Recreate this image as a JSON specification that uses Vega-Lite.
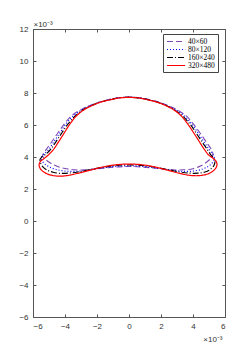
{
  "$schema": "https://vega.github.io/schema/vega-lite/v6.json",
  "autosize": {"type": "none"},
  "padding": {"left": 33, "top": 29, "right": 24, "bottom": 41},
  "width": 192,
  "height": 288,
  "background": "white",
  "config": {
    "view": {"stroke": null},
    "axis": {"grid": false, "domainColor": "#555", "domainWidth": 1, "tickColor": "#555", "tickWidth": 1, "labelFont": "Liberation Sans", "labelFontSize": 8, "labelColor": "#333", "titleFont": "Liberation Sans", "titleFontWeight": "normal", "titleFontSize": 8, "titleColor": "#333"}
  },
  "datasets": {
    "curves": [
      {"s": "40×60", "i": 0, "x": 0, "y": 7.75}, {"s": "40×60", "i": 1, "x": -0.6, "y": 7.71}, {"s": "40×60", "i": 2, "x": -1.2, "y": 7.6}, {"s": "40×60", "i": 3, "x": -1.9, "y": 7.42}, {"s": "40×60", "i": 4, "x": -2.45, "y": 7.22}, {"s": "40×60", "i": 5, "x": -3.0, "y": 6.96}, {"s": "40×60", "i": 6, "x": -3.62, "y": 6.55}, {"s": "40×60", "i": 7, "x": -4.05, "y": 6.05}, {"s": "40×60", "i": 8, "x": -4.45, "y": 5.5}, {"s": "40×60", "i": 9, "x": -4.83, "y": 4.95}, {"s": "40×60", "i": 10, "x": -5.18, "y": 4.46}, {"s": "40×60", "i": 11, "x": -5.36, "y": 4.2}, {"s": "40×60", "i": 12, "x": -5.4, "y": 4.05}, {"s": "40×60", "i": 13, "x": -5.22, "y": 3.85}, {"s": "40×60", "i": 14, "x": -4.92, "y": 3.62}, {"s": "40×60", "i": 15, "x": -4.5, "y": 3.42}, {"s": "40×60", "i": 16, "x": -4.0, "y": 3.28}, {"s": "40×60", "i": 17, "x": -3.4, "y": 3.2}, {"s": "40×60", "i": 18, "x": -2.7, "y": 3.2}, {"s": "40×60", "i": 19, "x": -1.8, "y": 3.28}, {"s": "40×60", "i": 20, "x": -0.9, "y": 3.37}, {"s": "40×60", "i": 21, "x": 0, "y": 3.41}, {"s": "40×60", "i": 22, "x": 0.9, "y": 3.37}, {"s": "40×60", "i": 23, "x": 1.8, "y": 3.28}, {"s": "40×60", "i": 24, "x": 2.7, "y": 3.2}, {"s": "40×60", "i": 25, "x": 3.4, "y": 3.2}, {"s": "40×60", "i": 26, "x": 4.0, "y": 3.27}, {"s": "40×60", "i": 27, "x": 4.5, "y": 3.45}, {"s": "40×60", "i": 28, "x": 4.9, "y": 3.72}, {"s": "40×60", "i": 29, "x": 5.15, "y": 3.95}, {"s": "40×60", "i": 30, "x": 5.25, "y": 4.15}, {"s": "40×60", "i": 31, "x": 5.15, "y": 4.46}, {"s": "40×60", "i": 32, "x": 4.82, "y": 4.95}, {"s": "40×60", "i": 33, "x": 4.44, "y": 5.5}, {"s": "40×60", "i": 34, "x": 4.03, "y": 6.05}, {"s": "40×60", "i": 35, "x": 3.6, "y": 6.55}, {"s": "40×60", "i": 36, "x": 2.98, "y": 6.96}, {"s": "40×60", "i": 37, "x": 2.43, "y": 7.22}, {"s": "40×60", "i": 38, "x": 1.88, "y": 7.42}, {"s": "40×60", "i": 39, "x": 1.2, "y": 7.6}, {"s": "40×60", "i": 40, "x": 0.6, "y": 7.71}, {"s": "40×60", "i": 41, "x": 0, "y": 7.75},

      {"s": "80×120", "i": 0, "x": 0, "y": 7.74}, {"s": "80×120", "i": 1, "x": -0.6, "y": 7.7}, {"s": "80×120", "i": 2, "x": -1.17, "y": 7.59}, {"s": "80×120", "i": 3, "x": -1.85, "y": 7.42}, {"s": "80×120", "i": 4, "x": -2.38, "y": 7.22}, {"s": "80×120", "i": 5, "x": -2.92, "y": 6.96}, {"s": "80×120", "i": 6, "x": -3.5, "y": 6.55}, {"s": "80×120", "i": 7, "x": -3.95, "y": 6.05}, {"s": "80×120", "i": 8, "x": -4.33, "y": 5.5}, {"s": "80×120", "i": 9, "x": -4.7, "y": 4.95}, {"s": "80×120", "i": 10, "x": -5.03, "y": 4.46}, {"s": "80×120", "i": 11, "x": -5.3, "y": 4.2}, {"s": "80×120", "i": 12, "x": -5.46, "y": 4.02}, {"s": "80×120", "i": 13, "x": -5.45, "y": 3.82}, {"s": "80×120", "i": 14, "x": -5.28, "y": 3.58}, {"s": "80×120", "i": 15, "x": -5.02, "y": 3.4}, {"s": "80×120", "i": 16, "x": -4.62, "y": 3.24}, {"s": "80×120", "i": 17, "x": -4.1, "y": 3.13}, {"s": "80×120", "i": 18, "x": -3.5, "y": 3.1}, {"s": "80×120", "i": 19, "x": -2.8, "y": 3.15}, {"s": "80×120", "i": 20, "x": -2.0, "y": 3.27}, {"s": "80×120", "i": 21, "x": -1.0, "y": 3.4}, {"s": "80×120", "i": 22, "x": 0, "y": 3.45}, {"s": "80×120", "i": 23, "x": 1.0, "y": 3.4}, {"s": "80×120", "i": 24, "x": 2.0, "y": 3.27}, {"s": "80×120", "i": 25, "x": 2.8, "y": 3.15}, {"s": "80×120", "i": 26, "x": 3.5, "y": 3.1}, {"s": "80×120", "i": 27, "x": 4.1, "y": 3.13}, {"s": "80×120", "i": 28, "x": 4.6, "y": 3.25}, {"s": "80×120", "i": 29, "x": 4.98, "y": 3.43}, {"s": "80×120", "i": 30, "x": 5.22, "y": 3.65}, {"s": "80×120", "i": 31, "x": 5.33, "y": 3.88}, {"s": "80×120", "i": 32, "x": 5.28, "y": 4.1}, {"s": "80×120", "i": 33, "x": 5.02, "y": 4.46}, {"s": "80×120", "i": 34, "x": 4.68, "y": 4.95}, {"s": "80×120", "i": 35, "x": 4.32, "y": 5.5}, {"s": "80×120", "i": 36, "x": 3.93, "y": 6.05}, {"s": "80×120", "i": 37, "x": 3.48, "y": 6.55}, {"s": "80×120", "i": 38, "x": 2.9, "y": 6.96}, {"s": "80×120", "i": 39, "x": 2.36, "y": 7.22}, {"s": "80×120", "i": 40, "x": 1.83, "y": 7.42}, {"s": "80×120", "i": 41, "x": 1.17, "y": 7.59}, {"s": "80×120", "i": 42, "x": 0.6, "y": 7.7}, {"s": "80×120", "i": 43, "x": 0, "y": 7.74},

      {"s": "160×240", "i": 0, "x": 0, "y": 7.74}, {"s": "160×240", "i": 1, "x": -0.6, "y": 7.7}, {"s": "160×240", "i": 2, "x": -1.16, "y": 7.59}, {"s": "160×240", "i": 3, "x": -1.82, "y": 7.42}, {"s": "160×240", "i": 4, "x": -2.33, "y": 7.22}, {"s": "160×240", "i": 5, "x": -2.85, "y": 6.96}, {"s": "160×240", "i": 6, "x": -3.38, "y": 6.55}, {"s": "160×240", "i": 7, "x": -3.82, "y": 6.05}, {"s": "160×240", "i": 8, "x": -4.2, "y": 5.5}, {"s": "160×240", "i": 9, "x": -4.57, "y": 4.95}, {"s": "160×240", "i": 10, "x": -4.91, "y": 4.46}, {"s": "160×240", "i": 11, "x": -5.22, "y": 4.16}, {"s": "160×240", "i": 12, "x": -5.45, "y": 4.0}, {"s": "160×240", "i": 13, "x": -5.56, "y": 3.85}, {"s": "160×240", "i": 14, "x": -5.52, "y": 3.62}, {"s": "160×240", "i": 15, "x": -5.38, "y": 3.38}, {"s": "160×240", "i": 16, "x": -5.12, "y": 3.18}, {"s": "160×240", "i": 17, "x": -4.75, "y": 3.05}, {"s": "160×240", "i": 18, "x": -4.3, "y": 2.98}, {"s": "160×240", "i": 19, "x": -3.8, "y": 2.99}, {"s": "160×240", "i": 20, "x": -3.2, "y": 3.06}, {"s": "160×240", "i": 21, "x": -2.5, "y": 3.2}, {"s": "160×240", "i": 22, "x": -1.7, "y": 3.35}, {"s": "160×240", "i": 23, "x": -0.85, "y": 3.47}, {"s": "160×240", "i": 24, "x": 0, "y": 3.51}, {"s": "160×240", "i": 25, "x": 0.85, "y": 3.47}, {"s": "160×240", "i": 26, "x": 1.7, "y": 3.35}, {"s": "160×240", "i": 27, "x": 2.5, "y": 3.2}, {"s": "160×240", "i": 28, "x": 3.2, "y": 3.06}, {"s": "160×240", "i": 29, "x": 3.8, "y": 2.99}, {"s": "160×240", "i": 30, "x": 4.3, "y": 2.99}, {"s": "160×240", "i": 31, "x": 4.75, "y": 3.06}, {"s": "160×240", "i": 32, "x": 5.08, "y": 3.22}, {"s": "160×240", "i": 33, "x": 5.3, "y": 3.45}, {"s": "160×240", "i": 34, "x": 5.37, "y": 3.7}, {"s": "160×240", "i": 35, "x": 5.3, "y": 3.92}, {"s": "160×240", "i": 36, "x": 5.12, "y": 4.12}, {"s": "160×240", "i": 37, "x": 4.9, "y": 4.46}, {"s": "160×240", "i": 38, "x": 4.56, "y": 4.95}, {"s": "160×240", "i": 39, "x": 4.2, "y": 5.5}, {"s": "160×240", "i": 40, "x": 3.82, "y": 6.05}, {"s": "160×240", "i": 41, "x": 3.36, "y": 6.55}, {"s": "160×240", "i": 42, "x": 2.83, "y": 6.96}, {"s": "160×240", "i": 43, "x": 2.31, "y": 7.22}, {"s": "160×240", "i": 44, "x": 1.8, "y": 7.42}, {"s": "160×240", "i": 45, "x": 1.16, "y": 7.59}, {"s": "160×240", "i": 46, "x": 0.6, "y": 7.7}, {"s": "160×240", "i": 47, "x": 0, "y": 7.74},

      {"s": "320×480", "i": 0, "x": 0, "y": 7.73}, {"s": "320×480", "i": 1, "x": -0.6, "y": 7.69}, {"s": "320×480", "i": 2, "x": -1.15, "y": 7.58}, {"s": "320×480", "i": 3, "x": -1.8, "y": 7.42}, {"s": "320×480", "i": 4, "x": -2.3, "y": 7.22}, {"s": "320×480", "i": 5, "x": -2.8, "y": 6.96}, {"s": "320×480", "i": 6, "x": -3.3, "y": 6.55}, {"s": "320×480", "i": 7, "x": -3.7, "y": 6.05}, {"s": "320×480", "i": 8, "x": -4.05, "y": 5.5}, {"s": "320×480", "i": 9, "x": -4.4, "y": 4.95}, {"s": "320×480", "i": 10, "x": -4.73, "y": 4.46}, {"s": "320×480", "i": 11, "x": -5.05, "y": 4.12}, {"s": "320×480", "i": 12, "x": -5.35, "y": 3.87}, {"s": "320×480", "i": 13, "x": -5.55, "y": 3.7}, {"s": "320×480", "i": 14, "x": -5.62, "y": 3.52}, {"s": "320×480", "i": 15, "x": -5.56, "y": 3.3}, {"s": "320×480", "i": 16, "x": -5.38, "y": 3.1}, {"s": "320×480", "i": 17, "x": -5.08, "y": 2.93}, {"s": "320×480", "i": 18, "x": -4.7, "y": 2.83}, {"s": "320×480", "i": 19, "x": -4.25, "y": 2.8}, {"s": "320×480", "i": 20, "x": -3.75, "y": 2.86}, {"s": "320×480", "i": 21, "x": -3.2, "y": 2.98}, {"s": "320×480", "i": 22, "x": -2.5, "y": 3.16}, {"s": "320×480", "i": 23, "x": -1.7, "y": 3.36}, {"s": "320×480", "i": 24, "x": -0.85, "y": 3.51}, {"s": "320×480", "i": 25, "x": 0, "y": 3.56}, {"s": "320×480", "i": 26, "x": 0.85, "y": 3.51}, {"s": "320×480", "i": 27, "x": 1.7, "y": 3.36}, {"s": "320×480", "i": 28, "x": 2.5, "y": 3.15}, {"s": "320×480", "i": 29, "x": 3.2, "y": 2.97}, {"s": "320×480", "i": 30, "x": 3.75, "y": 2.86}, {"s": "320×480", "i": 31, "x": 4.25, "y": 2.83}, {"s": "320×480", "i": 32, "x": 4.7, "y": 2.88}, {"s": "320×480", "i": 33, "x": 5.1, "y": 3.02}, {"s": "320×480", "i": 34, "x": 5.38, "y": 3.25}, {"s": "320×480", "i": 35, "x": 5.5, "y": 3.5}, {"s": "320×480", "i": 36, "x": 5.44, "y": 3.74}, {"s": "320×480", "i": 37, "x": 5.25, "y": 3.92}, {"s": "320×480", "i": 38, "x": 4.98, "y": 4.12}, {"s": "320×480", "i": 39, "x": 4.72, "y": 4.46}, {"s": "320×480", "i": 40, "x": 4.4, "y": 4.95}, {"s": "320×480", "i": 41, "x": 4.05, "y": 5.5}, {"s": "320×480", "i": 42, "x": 3.68, "y": 6.05}, {"s": "320×480", "i": 43, "x": 3.28, "y": 6.55}, {"s": "320×480", "i": 44, "x": 2.78, "y": 6.96}, {"s": "320×480", "i": 45, "x": 2.28, "y": 7.22}, {"s": "320×480", "i": 46, "x": 1.78, "y": 7.42}, {"s": "320×480", "i": 47, "x": 1.15, "y": 7.58}, {"s": "320×480", "i": 48, "x": 0.6, "y": 7.69}, {"s": "320×480", "i": 49, "x": 0, "y": 7.73}
    ]
  },
  "data": {"name": "curves"},
  "layer": [
    {
      "mark": {"type": "point", "opacity": 0},
      "encoding": {
        "x": {"field": "x", "type": "quantitative", "scale": {"domain": [-6, 6], "nice": false, "zero": false},
              "axis": {"orient": "top", "values": [-6, -4, -2, 0, 2, 4, 6], "labels": false, "title": null, "tickSize": -3, "domain": true}},
        "y": {"field": "y", "type": "quantitative", "scale": {"domain": [-6, 12], "nice": false, "zero": false},
              "axis": {"orient": "right", "values": [-6, -4, -2, 0, 2, 4, 6, 8, 10, 12], "labels": false, "title": null, "tickSize": -3, "domain": true}}
      }
    },
    {
      "mark": {"type": "line", "interpolate": "catmull-rom"},
      "encoding": {
        "x": {"field": "x", "type": "quantitative",
              "axis": {"orient": "bottom", "values": [-6, -4, -2, 0, 2, 4, 6], "tickSize": -3, "labelPadding": 8, "title": "×10⁻³", "titleAnchor": "end", "titleAlign": "right", "titleX": 189, "titleY": 24, "titleBaseline": "alphabetic"}},
        "y": {"field": "y", "type": "quantitative",
              "axis": {"orient": "left", "values": [-6, -4, -2, 0, 2, 4, 6, 8, 10, 12], "tickSize": -3, "labelPadding": 8, "title": "×10⁻³", "titleAngle": 0, "titleAlign": "left", "titleX": 0, "titleY": -3, "titleBaseline": "alphabetic"}},
        "order": {"field": "i", "type": "quantitative"},
        "color": {"field": "s", "type": "nominal",
                  "scale": {"domain": ["40×60", "80×120", "160×240", "320×480"], "range": ["#7E4BB5", "#0000FF", "#000000", "#FF0000"]},
                  "legend": {"title": null, "orient": "none", "legendX": 130, "legendY": 5,
                             "symbolType": "M-1,0H4.2", "symbolSize": 49, "symbolStrokeWidth": 1.4,
                             "labelFont": "Liberation Serif", "labelFontSize": 7.5, "labelColor": "#000", "labelOffset": 13, "rowPadding": 0, "padding": 3,
                             "strokeColor": "#444", "fillColor": "white",
                             "encode": {"symbols": {"update": {
                               "stroke": {"signal": "datum.value == '40×60' ? '#7E4BB5' : datum.value == '80×120' ? '#0000FF' : datum.value == '160×240' ? '#000000' : '#FF0000'"},
                               "strokeDash": {"signal": "datum.value == '40×60' ? [5,3] : datum.value == '80×120' ? [1,2] : datum.value == '160×240' ? [5,2,1,2] : [1,0]"},
                               "strokeWidth": {"signal": "datum.value == '320×480' ? 1.8 : 1.4"}}}}}},
        "strokeDash": {"field": "s", "type": "nominal",
                       "scale": {"domain": ["40×60", "80×120", "160×240", "320×480"], "range": [[6, 3], [1, 2], [6, 2, 1, 2], [1, 0]]},
                       "legend": null},
        "strokeWidth": {"field": "s", "type": "nominal",
                        "scale": {"domain": ["40×60", "80×120", "160×240", "320×480"], "range": [1.1, 1.2, 1.1, 1.6]},
                        "legend": null}
      }
    }
  ]
}
